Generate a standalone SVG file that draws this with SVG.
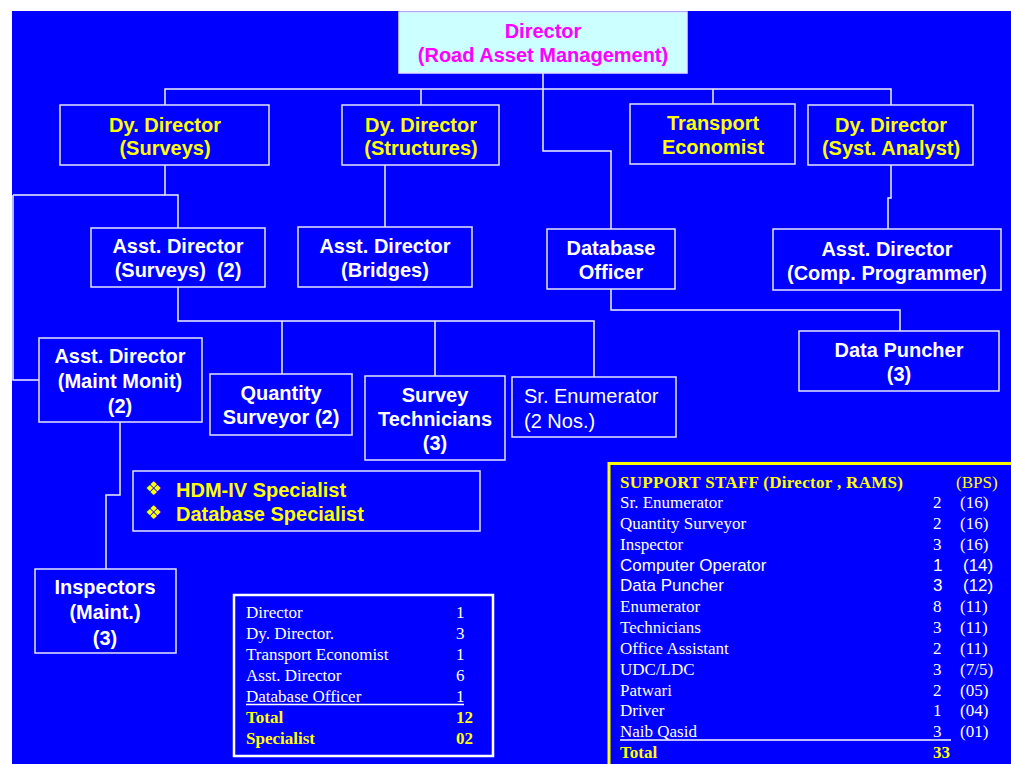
<svg xmlns="http://www.w3.org/2000/svg" width="1011" height="764" viewBox="0 0 1011 764">
<style>
.nb{fill:#0000ff;stroke:#e4e4ff;stroke-width:1.5}
.t{font-family:"Liberation Sans",Arial,sans-serif;font-size:20px;font-weight:bold;text-anchor:middle}
.w{fill:#ffffff}
.y{fill:#ffff00}
.c{fill:none;stroke:#f0f0ff;stroke-width:1.5}
.tr{font-family:"Liberation Serif","Times New Roman",serif;font-size:17px;fill:#ffffff}
.ar{font-family:"Liberation Sans",Arial,sans-serif;font-size:17px;fill:#ffffff}
.yb{fill:#ffff00;font-weight:bold}
</style>
<rect x="0" y="0" width="1011" height="764" fill="#ffffff"/>
<rect x="12" y="11" width="999" height="753" fill="#0000ff"/>

<g id="connectors">
<path class="c" d="M543,73 V151 H611 V229"/>
<path class="c" d="M165,105 V89 H891 V105"/>
<path class="c" d="M421,89 V105"/>
<path class="c" d="M713,89 V104"/>
<path class="c" d="M165,165 V195 H178 V228"/>
<path class="c" d="M13,195 H165"/>
<path class="c" d="M13,195 V380 H39"/>
<path class="c" d="M385,165 V227"/>
<path class="c" d="M891,165 V198 H888 V229"/>
<path class="c" d="M611,289 V310 H900 V331"/>
<path class="c" d="M178,287 V321 H594 V377"/>
<path class="c" d="M282,321 V374"/>
<path class="c" d="M435,321 V376"/>
<path class="c" d="M120,422 V495 H106 V569"/>
</g>

<g id="director">
<rect x="399" y="12" width="288" height="61" fill="#ccffff" stroke="#e4e4ff" stroke-width="1.5"/>
<text class="t" x="543" y="38" fill="#ff00ff">Director</text>
<text class="t" x="543" y="62" fill="#ff00ff">(Road Asset Management)</text>
</g>

<g id="dd-surveys">
<rect class="nb" x="60" y="105" width="209" height="60"/>
<text class="t y" x="165" y="132">Dy. Director</text>
<text class="t y" x="165" y="155">(Surveys)</text>
</g>

<g id="dd-structures">
<rect class="nb" x="342" y="105" width="157" height="60"/>
<text class="t y" x="421" y="132">Dy. Director</text>
<text class="t y" x="421" y="155">(Structures)</text>
</g>

<g id="transport-economist">
<rect class="nb" x="630" y="104" width="165" height="60"/>
<text class="t y" x="713" y="130">Transport</text>
<text class="t y" x="713" y="154">Economist</text>
</g>

<g id="dd-syst">
<rect class="nb" x="808" y="105" width="165" height="60"/>
<text class="t y" x="891" y="132">Dy. Director</text>
<text class="t y" x="891" y="155">(Syst. Analyst)</text>
</g>

<g id="ad-surveys">
<rect class="nb" x="91" y="228" width="174" height="59"/>
<text class="t w" x="178" y="253">Asst. Director</text>
<text class="t w" x="178" y="277" xml:space="preserve">(Surveys)  (2)</text>
</g>

<g id="ad-bridges">
<rect class="nb" x="298" y="227" width="174" height="60"/>
<text class="t w" x="385" y="253">Asst. Director</text>
<text class="t w" x="385" y="277">(Bridges)</text>
</g>

<g id="database-officer">
<rect class="nb" x="547" y="229" width="128" height="60"/>
<text class="t w" x="611" y="255">Database</text>
<text class="t w" x="611" y="279">Officer</text>
</g>

<g id="ad-comp">
<rect class="nb" x="773" y="229" width="228" height="61"/>
<text class="t w" x="887" y="256">Asst. Director</text>
<text class="t w" x="887" y="280">(Comp. Programmer)</text>
</g>

<g id="data-puncher">
<rect class="nb" x="799" y="331" width="200" height="60"/>
<text class="t w" x="899" y="357">Data Puncher</text>
<text class="t w" x="899" y="381">(3)</text>
</g>

<g id="ad-maint">
<rect class="nb" x="39" y="338" width="163" height="84"/>
<text class="t w" x="120" y="363">Asst. Director</text>
<text class="t w" x="120" y="388">(Maint Monit)</text>
<text class="t w" x="120" y="413">(2)</text>
</g>

<g id="quantity-surveyor">
<rect class="nb" x="210" y="374" width="142" height="61"/>
<text class="t w" x="281" y="400">Quantity</text>
<text class="t w" x="281" y="424">Surveyor (2)</text>
</g>

<g id="survey-technicians">
<rect class="nb" x="365" y="376" width="140" height="84"/>
<text class="t w" x="435" y="402">Survey</text>
<text class="t w" x="435" y="426">Technicians</text>
<text class="t w" x="435" y="450">(3)</text>
</g>

<g id="sr-enumerator">
<rect class="nb" x="512" y="377" width="164" height="60"/>
<text x="524" y="403" font-family="Liberation Sans, Arial, sans-serif" font-size="20" fill="#ffffff">Sr. Enumerator</text>
<text x="524" y="428" font-family="Liberation Sans, Arial, sans-serif" font-size="20" fill="#ffffff">(2 Nos.)</text>
</g>

<g id="specialists">
<rect class="nb" x="133" y="471" width="347" height="60"/>
<text x="145" y="495" font-family="DejaVu Sans, sans-serif" font-size="19" fill="#ffff00">❖</text>
<text x="145" y="519" font-family="DejaVu Sans, sans-serif" font-size="19" fill="#ffff00">❖</text>
<text x="176" y="497" font-family="Liberation Sans, Arial, sans-serif" font-size="20" font-weight="bold" fill="#ffff00">HDM-IV Specialist</text>
<text x="176" y="521" font-family="Liberation Sans, Arial, sans-serif" font-size="20" font-weight="bold" fill="#ffff00">Database Specialist</text>
</g>

<g id="inspectors">
<rect class="nb" x="35" y="569" width="141" height="84"/>
<text class="t w" x="105" y="594">Inspectors</text>
<text class="t w" x="105" y="619">(Maint.)</text>
<text class="t w" x="105" y="645">(3)</text>
</g>

<g id="summary">
<rect x="234" y="595" width="259" height="161" fill="#0000ff" stroke="#ffffff" stroke-width="2.5"/>
<g class="tr">
<text x="246" y="618">Director</text>
<text x="246" y="639">Dy. Director.</text>
<text x="246" y="660">Transport Economist</text>
<text x="246" y="681">Asst. Director</text>
<text x="246" y="702">Database Officer</text>
<text x="456" y="618">1</text>
<text x="456" y="639">3</text>
<text x="456" y="660">1</text>
<text x="456" y="681">6</text>
<text x="456" y="702">1</text>
<text x="246" y="723" class="yb">Total</text>
<text x="246" y="744" class="yb">Specialist</text>
<text x="456" y="723" class="yb">12</text>
<text x="456" y="744" class="yb">02</text>
</g>
<line x1="246" y1="704.5" x2="464" y2="704.5" stroke="#ffffff" stroke-width="1.3"/>
</g>

<g id="support-staff">
<rect x="609" y="463.5" width="410" height="310" fill="#0000ff" stroke="#ffff00" stroke-width="3"/>
<g class="tr">
<text x="620" y="488" class="yb" textLength="283">SUPPORT STAFF (Director , RAMS)</text>
<text x="956" y="488" fill="#ffff00">(BPS)</text>
<text x="620" y="508">Sr. Enumerator</text>
<text x="620" y="529">Quantity Surveyor</text>
<text x="620" y="550">Inspector</text>
<text x="620" y="612">Enumerator</text>
<text x="620" y="633">Technicians</text>
<text x="620" y="654">Office Assistant</text>
<text x="620" y="675">UDC/LDC</text>
<text x="620" y="696">Patwari</text>
<text x="620" y="716">Driver</text>
<text x="620" y="737">Naib Qasid</text>
<text x="620" y="758" class="yb">Total</text>
<text x="933" y="508">2</text>
<text x="933" y="529">2</text>
<text x="933" y="550">3</text>
<text x="933" y="612">8</text>
<text x="933" y="633">3</text>
<text x="933" y="654">2</text>
<text x="933" y="675">3</text>
<text x="933" y="696">2</text>
<text x="933" y="716">1</text>
<text x="933" y="737">3</text>
<text x="933" y="758" class="yb">33</text>
<text x="960" y="508">(16)</text>
<text x="960" y="529">(16)</text>
<text x="960" y="550">(16)</text>
<text x="960" y="612">(11)</text>
<text x="960" y="633">(11)</text>
<text x="960" y="654">(11)</text>
<text x="960" y="675">(7/5)</text>
<text x="960" y="696">(05)</text>
<text x="960" y="716">(04)</text>
<text x="960" y="737">(01)</text>
</g>
<g class="ar">
<text x="620" y="571">Computer Operator</text>
<text x="620" y="591">Data Puncher</text>
<text x="933" y="571">1</text>
<text x="933" y="591">3</text>
<text x="963" y="571">(14)</text>
<text x="963" y="591">(12)</text>
</g>
<line x1="620" y1="740" x2="951" y2="740" stroke="#ffffff" stroke-width="1.3"/>
</g>
</svg>
